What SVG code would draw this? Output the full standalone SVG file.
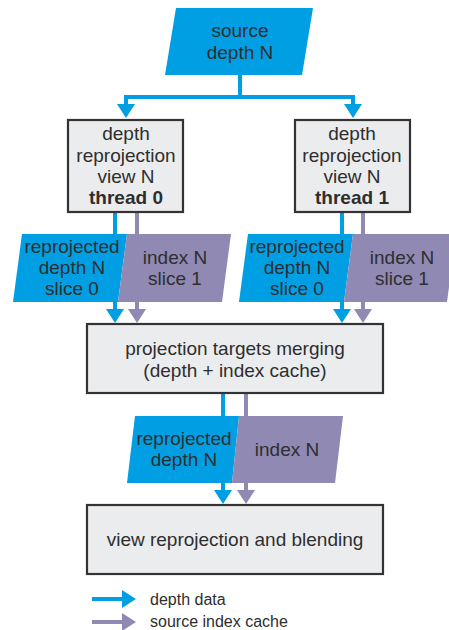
<svg xmlns="http://www.w3.org/2000/svg" width="449" height="630" viewBox="0 0 449 630">
<style>
text{font-family:"Liberation Sans",Arial,sans-serif;font-size:19px;fill:#2e2e2e;text-anchor:middle}
.b{font-weight:bold}
.lg{font-size:16px;text-anchor:start}
.box{fill:#ebeced;stroke:#333;stroke-width:2.2}
.blue{fill:#009fe3}
.purp{fill:#8f89b3}
.cb{fill:none;stroke:#009fe3;stroke-width:4}
.cp{fill:none;stroke:#8f89b3;stroke-width:4}
</style>
<defs>
<marker id="ab" markerUnits="userSpaceOnUse" markerWidth="14" markerHeight="18" viewBox="0 0 14 18" refX="0" refY="9" orient="auto"><path d="M0,0L14,9L0,18z" fill="#009fe3"/></marker>
<marker id="ap" markerUnits="userSpaceOnUse" markerWidth="14" markerHeight="18" viewBox="0 0 14 18" refX="0" refY="9" orient="auto"><path d="M0,0L14,9L0,18z" fill="#8f89b3"/></marker>
</defs>
<g id="connectors">
<path class="cb" d="M240,75V97H126V104" marker-end="url(#ab)"/>
<path class="cb" d="M240,97H353V104" marker-end="url(#ab)"/>
<path class="cb" d="M115,212V309" marker-end="url(#ab)"/>
<path class="cp" d="M137,212V309" marker-end="url(#ap)"/>
<path class="cb" d="M342,212V309" marker-end="url(#ab)"/>
<path class="cp" d="M363,212V309" marker-end="url(#ap)"/>
<path class="cb" d="M223,393V490" marker-end="url(#ab)"/>
<path class="cp" d="M246,393V490" marker-end="url(#ap)"/>
</g>
<g id="source">
<polygon class="blue" points="176,8 313,8 302,75 165,75"/>
<text x="240" y="37">source</text>
<text x="240" y="59">depth N</text>
</g>
<g id="thread0">
<rect class="box" x="68" y="120" width="115" height="92"/>
<text x="126" y="140">depth</text>
<text x="126" y="162">reprojection</text>
<text x="126" y="183">view N</text>
<text x="126" y="204" class="b">thread 0</text>
</g>
<g id="thread1">
<rect class="box" x="295" y="120" width="115" height="92"/>
<text x="352" y="140">depth</text>
<text x="352" y="162">reprojection</text>
<text x="352" y="183">view N</text>
<text x="352" y="204" class="b">thread 1</text>
</g>
<g id="depth-slice-left">
<polygon class="blue" points="22,234 127,234 118,302 13,302"/>
<text x="72" y="253">reprojected</text>
<text x="72" y="274">depth N</text>
<text x="72" y="295">slice 0</text>
</g>
<g id="index-slice-left">
<polygon class="purp" points="127,234 231,234 222,302 118,302"/>
<text x="175" y="264">index N</text>
<text x="175" y="285">slice 1</text>
</g>
<g id="depth-slice-right">
<polygon class="blue" points="248,234 353,234 344,302 239,302"/>
<text x="297" y="253">reprojected</text>
<text x="297" y="274">depth N</text>
<text x="297" y="295">slice 0</text>
</g>
<g id="index-slice-right">
<polygon class="purp" points="353,234 456,234 447,302 344,302"/>
<text x="402" y="264">index N</text>
<text x="402" y="285">slice 1</text>
</g>
<g id="merging">
<rect class="box" x="87" y="324" width="296" height="69"/>
<text x="235" y="355">projection targets merging</text>
<text x="235" y="377">(depth + index cache)</text>
</g>
<g id="depth-merged">
<polygon class="blue" points="135,416 239,416 232,483 127,483"/>
<text x="184" y="445">reprojected</text>
<text x="184" y="466">depth N</text>
</g>
<g id="index-merged">
<polygon class="purp" points="239,416 343,416 335,483 232,483"/>
<text x="287" y="456">index N</text>
</g>
<g id="blending">
<rect class="box" x="87" y="505" width="296" height="69"/>
<text x="235" y="546">view reprojection and blending</text>
</g>
<g id="legend">
<path class="cb" d="M92,599H122" marker-end="url(#ab)"/>
<text class="lg" x="150" y="605">depth data</text>
<path class="cp" d="M92,622H122" marker-end="url(#ap)"/>
<text class="lg" x="150" y="627">source index cache</text>
</g>
</svg>
